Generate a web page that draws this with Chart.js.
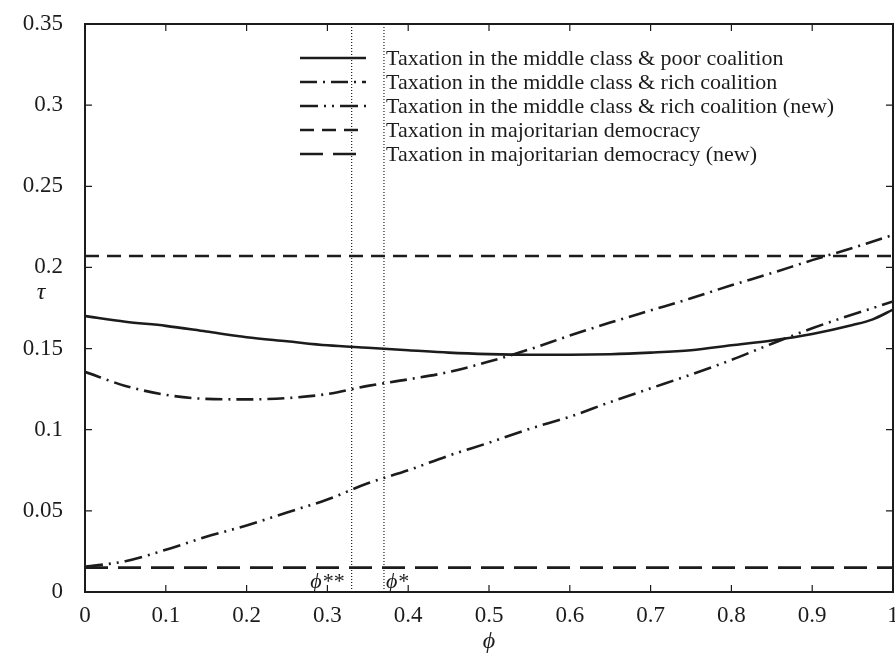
<!DOCTYPE html>
<html><head><meta charset="utf-8">
<script src="https://cdn.jsdelivr.net/npm/chart.js@4"></script>
<style>html,body{margin:0;padding:0;background:#fff}#wrap{width:895px;height:655px}</style>
</head><body><div id="wrap"><canvas id="c" width="895" height="655"></canvas></div>
<script>
const phi = [0,0.05,0.1,0.15,0.2,0.25,0.3,0.35,0.4,0.45,0.5,0.55,0.6,0.65,0.7,0.75,0.8,0.85,0.9,0.95,0.975,1];
const tauMidPoor = [0.170,0.1665,0.164,0.1605,0.157,0.1545,0.152,0.1505,0.149,0.1475,0.1466,0.1462,0.1462,0.1465,0.1475,0.149,0.152,0.155,0.159,0.1645,0.168,0.174];
const tauMidRich = [0.1357,0.127,0.1215,0.119,0.1187,0.1195,0.122,0.127,0.131,0.1355,0.142,0.1495,0.158,0.166,0.1735,0.181,0.189,0.1965,0.2045,0.212,0.216,0.220];
const tauMidRichNew = [0.0155,0.019,0.026,0.034,0.041,0.049,0.057,0.067,0.075,0.084,0.092,0.1005,0.108,0.117,0.1255,0.134,0.143,0.153,0.1625,0.171,0.175,0.179];
const phiEnds = [0, 1];
const tauMajority = [0.207, 0.207];
const tauMajorityNew = [0.015, 0.015];
const phiStarStar = 0.33;
const phiStar = 0.37;
const xTicks = [0,0.1,0.2,0.3,0.4,0.5,0.6,0.7,0.8,0.9,1];
const yTicks = [0,0.05,0.1,0.15,0.2,0.25,0.3,0.35];
const legendLabels = [
  "Taxation in the middle class & poor coalition",
  "Taxation in the middle class & rich coalition",
  "Taxation in the middle class & rich coalition (new)",
  "Taxation in majoritarian democracy",
  "Taxation in majoritarian democracy (new)"
];

const INK = '#1c1c1c';
const FONT = 'Liberation Serif, Times New Roman, serif';
const pts = (xs, ys) => xs.map((x, i) => ({x, y: ys[i]}));
const dashes = [[], [17,6,2,6], [18,6,2,6,2,6], [14,8], [23,10]];

const datasets = [
  {label: legendLabels[0], data: pts(phi, tauMidPoor), borderDash: dashes[0], cubicInterpolationMode: 'monotone'},
  {label: legendLabels[1], data: pts(phi, tauMidRich), borderDash: dashes[1], cubicInterpolationMode: 'monotone'},
  {label: legendLabels[2], data: pts(phi, tauMidRichNew), borderDash: dashes[2], cubicInterpolationMode: 'monotone'},
  {label: legendLabels[3], data: pts(phiEnds, tauMajority), borderDash: dashes[3]},
  {label: legendLabels[4], data: pts(phiEnds, tauMajorityNew), borderDash: dashes[4]},
  {label: 'phiStarStar', data: [{x: phiStarStar, y: 0}, {x: phiStarStar, y: 0.35}], borderDash: [1,2], borderWidth: 1.2},
  {label: 'phiStar', data: [{x: phiStar, y: 0}, {x: phiStar, y: 0.35}], borderDash: [1,2], borderWidth: 1.2}
].map(d => Object.assign({borderColor: INK, borderWidth: 2.6, pointRadius: 0, showLine: true, fill: false, borderCapStyle: 'butt'}, d));

const fmt = v => String(+v.toFixed(2));

const decor = {
  id: 'decor',
  afterDraw(chart) {
    const {ctx, chartArea: a, scales: {x, y}} = chart;
    ctx.save();
    ctx.strokeStyle = INK;
    ctx.lineWidth = 2;
    ctx.setLineDash([]);
    ctx.strokeRect(a.left, a.top, a.right - a.left, a.bottom - a.top);
    ctx.lineWidth = 1.2;
    const L = 7;
    ctx.beginPath();
    xTicks.forEach(v => {
      const px = x.getPixelForValue(v);
      ctx.moveTo(px, a.bottom); ctx.lineTo(px, a.bottom - L);
      ctx.moveTo(px, a.top); ctx.lineTo(px, a.top + L);
    });
    yTicks.forEach(v => {
      const py = y.getPixelForValue(v);
      ctx.moveTo(a.left, py); ctx.lineTo(a.left + L, py);
      ctx.moveTo(a.right, py); ctx.lineTo(a.right - L, py);
    });
    ctx.stroke();
    // legend
    ctx.fillStyle = INK;
    ctx.font = '22px ' + FONT;
    ctx.textBaseline = 'middle';
    ctx.textAlign = 'left';
    legendLabels.forEach((t, i) => {
      const ly = 58 + 24 * i;
      ctx.lineWidth = 2.6;
      ctx.setLineDash(dashes[i]);
      ctx.beginPath(); ctx.moveTo(300, ly); ctx.lineTo(366, ly); ctx.stroke();
      ctx.setLineDash([]);
      ctx.fillText(t, 386, ly + 1);
    });
    // phi labels
    ctx.font = 'italic 22px ' + FONT;
    ctx.textBaseline = 'alphabetic';
    ctx.textAlign = 'right';
    ctx.fillText('ϕ**', x.getPixelForValue(phiStarStar) - 8, a.bottom - 4);
    ctx.textAlign = 'left';
    ctx.fillText('ϕ*', x.getPixelForValue(phiStar) + 2, a.bottom - 4);
    // axis titles
    ctx.font = 'italic 24px ' + FONT;
    ctx.textAlign = 'center';
    ctx.textBaseline = 'middle';
    ctx.fillText('τ', 41, 293);
    ctx.fillText('ϕ', (a.left + a.right) / 2, 642);
    ctx.restore();
  }
};

new Chart(document.getElementById('c'), {
  type: 'scatter',
  data: {datasets},
  options: {
    responsive: false,
    animation: false,
    devicePixelRatio: 1,
    layout: {padding: {left: 0, top: 24, right: 2, bottom: 0}},
    plugins: {legend: {display: false}, tooltip: {enabled: false}},
    scales: {
      x: {
        type: 'linear', min: 0, max: 1,
        afterBuildTicks: s => { s.ticks = xTicks.map(v => ({value: v})); },
        afterFit: s => { s.height = 63; s.paddingLeft = 0; s.paddingRight = 0; },
        grid: {display: false, drawTicks: false},
        border: {display: false},
        ticks: {padding: 10, color: INK, font: {family: FONT, size: 23}, callback: v => fmt(v), maxRotation: 0, autoSkip: false}
      },
      y: {
        type: 'linear', min: 0, max: 0.35,
        afterBuildTicks: s => { s.ticks = yTicks.map(v => ({value: v})); },
        afterFit: s => { s.width = 85; s.paddingTop = 0; s.paddingBottom = 0; },
        grid: {display: false, drawTicks: false},
        border: {display: false},
        ticks: {padding: 22, color: INK, font: {family: FONT, size: 23}, callback: v => fmt(v), autoSkip: false}
      }
    }
  },
  plugins: [decor]
});
</script></body></html>
